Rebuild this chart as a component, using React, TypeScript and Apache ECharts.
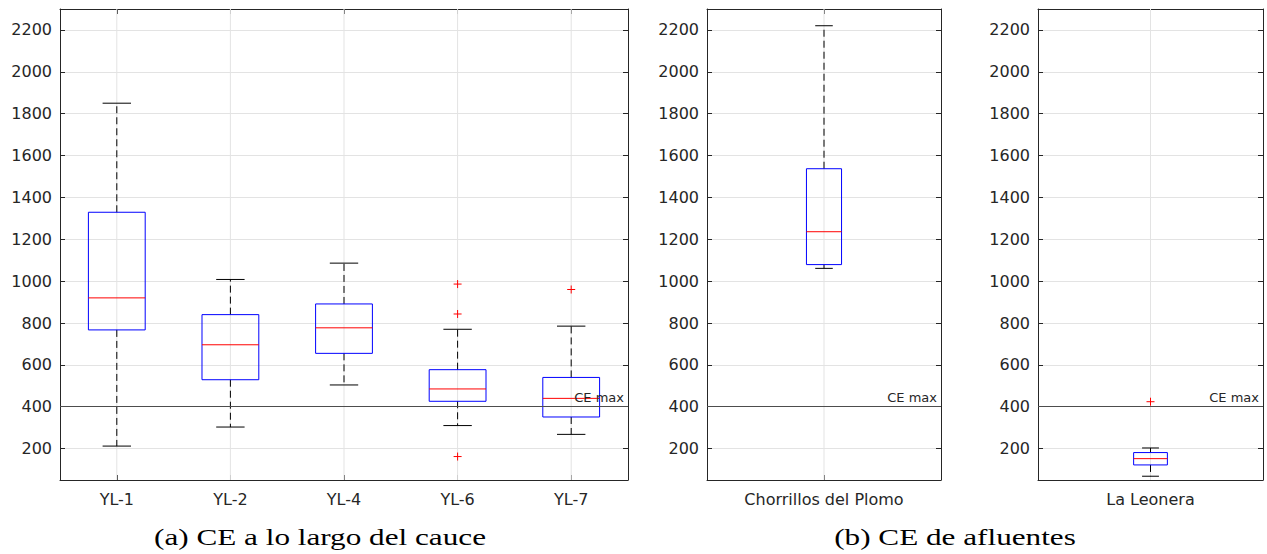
import React, { useEffect, useRef } from "react";
import * as echarts from "echarts";

// ---------- data ----------
const CATS_A = ["YL-1", "YL-2", "YL-4", "YL-6", "YL-7"];
const LOW_A = [212, 303, 504, 310, 268];
const Q1_A = [767, 529, 655, 426, 351];
const MED_A = [920, 696, 777, 485, 440];
const Q3_A = [1329, 840, 891, 577, 540];
const HIGH_A = [1850, 1008, 1086, 770, 785];
const OUT_A_CAT = [3, 3, 3, 4];
const OUT_A_VAL = [986, 843, 162, 960];

const CATS_B = ["Chorrillos del Plomo"];
const LOW_B = [1061];
const Q1_B = [1079];
const MED_B = [1236];
const Q3_B = [1537];
const HIGH_B = [2220];

const CATS_C = ["La Leonera"];
const LOW_C = [68];
const Q1_C = [122];
const MED_C = [152];
const Q3_C = [181];
const HIGH_C = [203];
const OUT_C_CAT = [0];
const OUT_C_VAL = [424];

const CE_MAX = 400;
const Y_MIN = 50;
const Y_MAX = 2300;
const Y_STEP = 200;

const CAPTION_A = "(a) CE a lo largo del cauce";
const CAPTION_B = "(b) CE de afluentes";

// ---------- styling ----------
const AXIS_COLOR = "#262626";
const GRID_COLOR = "#e3e3e3";
const SANS = "DejaVu Sans";

function boxData(low: number[], q1: number[], med: number[], q3: number[], high: number[]) {
  return low.map((_, i) => [i, low[i], q1[i], med[i], q3[i], high[i]]);
}
function outData(cats: number[], vals: number[]) {
  return cats.map((c, i) => [c, vals[i]]);
}

function makeBoxRender(frac: number) {
  return (params: any, api: any) => {
    const idx = api.value(0);
    const low = api.coord([idx, api.value(1)]);
    const q1 = api.coord([idx, api.value(2)]);
    const med = api.coord([idx, api.value(3)]);
    const q3 = api.coord([idx, api.value(4)]);
    const high = api.coord([idx, api.value(5)]);
    const band = api.size([1, 0])[0];
    const bw = band * frac;
    const cap = bw / 2;
    const cx = low[0];
    const cs = params.coordSys;
    const dash = { stroke: "#000", lineWidth: 1, lineDash: [7, 4] };
    return {
      type: "group",
      children: [
        {
          type: "line",
          shape: { x1: cx, y1: cs.y, x2: cx, y2: cs.y + cs.height },
          style: { stroke: GRID_COLOR, lineWidth: 1 },
        },
        { type: "line", shape: { x1: cx, y1: q3[1], x2: cx, y2: high[1] }, style: dash },
        { type: "line", shape: { x1: cx, y1: q1[1], x2: cx, y2: low[1] }, style: dash },
        {
          type: "line",
          shape: { x1: cx - cap / 2, y1: high[1], x2: cx + cap / 2, y2: high[1] },
          style: { stroke: "#000", lineWidth: 1 },
        },
        {
          type: "line",
          shape: { x1: cx - cap / 2, y1: low[1], x2: cx + cap / 2, y2: low[1] },
          style: { stroke: "#000", lineWidth: 1 },
        },
        {
          type: "rect",
          shape: { x: cx - bw / 2, y: q3[1], width: bw, height: q1[1] - q3[1] },
          style: { fill: "none", stroke: "#0000ff", lineWidth: 1 },
        },
        {
          type: "line",
          shape: { x1: cx - bw / 2, y1: med[1], x2: cx + bw / 2, y2: med[1] },
          style: { stroke: "#ff0000", lineWidth: 1 },
        },
      ],
    };
  };
}

function outRender(params: any, api: any) {
  const p = api.coord([api.value(0), api.value(1)]);
  const h = 4;
  return {
    type: "group",
    children: [
      { type: "line", shape: { x1: p[0] - h, y1: p[1], x2: p[0] + h, y2: p[1] }, style: { stroke: "#ff0000", lineWidth: 1 } },
      { type: "line", shape: { x1: p[0], y1: p[1] - h, x2: p[0], y2: p[1] + h }, style: { stroke: "#ff0000", lineWidth: 1 } },
    ],
  };
}

const GRIDS = [
  { left: 60, top: 9, width: 568, height: 471 },
  { left: 707, top: 9, width: 234, height: 471 },
  { left: 1038, top: 9, width: 225, height: 471 },
];

export default function App() {
  const ref = useRef<HTMLDivElement>(null);

  useEffect(() => {
    if (!ref.current) return;
    const chart = echarts.init(ref.current, undefined, { renderer: "svg" });
    const catsList = [CATS_A, CATS_B, CATS_C];

    const xAxis: any[] = [];
    const yAxis: any[] = [];
    catsList.forEach((cats, g) => {
      xAxis.push({
        type: "category",
        gridIndex: g,
        data: cats,
        position: "bottom",
        boundaryGap: true,
        axisLine: { show: true, lineStyle: { color: AXIS_COLOR, width: 1 } },
        axisTick: { show: true, inside: true, length: 5, alignWithLabel: true, lineStyle: { color: AXIS_COLOR } },
        axisLabel: { color: AXIS_COLOR, fontSize: 16, fontFamily: SANS, margin: 11 },
        splitLine: { show: false },
      });
      xAxis.push({
        type: "category",
        gridIndex: g,
        data: cats,
        position: "top",
        boundaryGap: true,
        axisLine: { show: true, lineStyle: { color: AXIS_COLOR, width: 1 } },
        axisTick: { show: true, inside: true, length: 5, alignWithLabel: true, lineStyle: { color: AXIS_COLOR } },
        axisLabel: { show: false },
        splitLine: { show: false },
      });
      const yBase = {
        type: "value",
        gridIndex: g,
        min: Y_MIN,
        max: Y_MAX,
        minInterval: Y_STEP,
        maxInterval: Y_STEP,
        splitNumber: 11,
        axisLine: { show: true, lineStyle: { color: AXIS_COLOR, width: 1 } },
        axisTick: { show: true, inside: true, length: 5, lineStyle: { color: AXIS_COLOR } },
      };
      yAxis.push({
        ...yBase,
        position: "left",
        axisLabel: {
          color: AXIS_COLOR,
          fontSize: 16,
          fontFamily: SANS,
          margin: 8,
          showMinLabel: false,
          showMaxLabel: false,
          formatter: (v: number) => String(v),
        },
        splitLine: { show: true, lineStyle: { color: GRID_COLOR, width: 1 } },
      });
      yAxis.push({
        ...yBase,
        position: "right",
        axisLabel: { show: false },
        splitLine: { show: false },
      });
    });

    const boxes = [
      { data: boxData(LOW_A, Q1_A, MED_A, Q3_A, HIGH_A), frac: 0.5 },
      { data: boxData(LOW_B, Q1_B, MED_B, Q3_B, HIGH_B), frac: 0.15 },
      { data: boxData(LOW_C, Q1_C, MED_C, Q3_C, HIGH_C), frac: 0.15 },
    ];

    const series: any[] = [];
    boxes.forEach((b, g) => {
      series.push({
        type: "custom",
        name: "box" + g,
        xAxisIndex: g * 2,
        yAxisIndex: g * 2,
        data: b.data,
        encode: { x: 0, y: [1, 2, 3, 4, 5] },
        renderItem: makeBoxRender(b.frac),
        z: 3,
        markLine: {
          silent: true,
          symbol: "none",
          z: 4,
          lineStyle: { color: "#4d4d4d", width: 1.2, type: "solid" },
          label: {
            show: true,
            position: "insideEndTop",
            formatter: "CE max",
            color: AXIS_COLOR,
            fontSize: 13,
            fontFamily: SANS,
            distance: [4, 3],
          },
          data: [{ yAxis: CE_MAX }],
        },
      });
    });
    series.push({
      type: "custom",
      name: "outA",
      xAxisIndex: 0,
      yAxisIndex: 0,
      data: outData(OUT_A_CAT, OUT_A_VAL),
      encode: { x: 0, y: 1 },
      renderItem: outRender,
      z: 5,
    });
    series.push({
      type: "custom",
      name: "outC",
      xAxisIndex: 4,
      yAxisIndex: 4,
      data: outData(OUT_C_CAT, OUT_C_VAL),
      encode: { x: 0, y: 1 },
      renderItem: outRender,
      z: 5,
    });

    chart.setOption({
      animation: false,
      backgroundColor: "#ffffff",
      grid: GRIDS.map((g) => ({ ...g, containLabel: false })),
      xAxis,
      yAxis,
      series,
      graphic: [
        {
          type: "text",
          x: 320,
          y: 537,
          scaleX: 1.3,
          style: {
            text: CAPTION_A,
            fontFamily: "Liberation Serif",
            fontSize: 24,
            fill: "#000",
            textAlign: "center",
            textVerticalAlign: "middle",
          },
        },
        {
          type: "text",
          x: 955,
          y: 537,
          scaleX: 1.3,
          style: {
            text: CAPTION_B,
            fontFamily: "Liberation Serif",
            fontSize: 24,
            fill: "#000",
            textAlign: "center",
            textVerticalAlign: "middle",
          },
        },
      ],
    });

    return () => chart.dispose();
  }, []);

  return (
    <div
      ref={ref}
      style={{ position: "fixed", left: 0, top: 0, width: 1267, height: 554, background: "#fff" }}
    />
  );
}
